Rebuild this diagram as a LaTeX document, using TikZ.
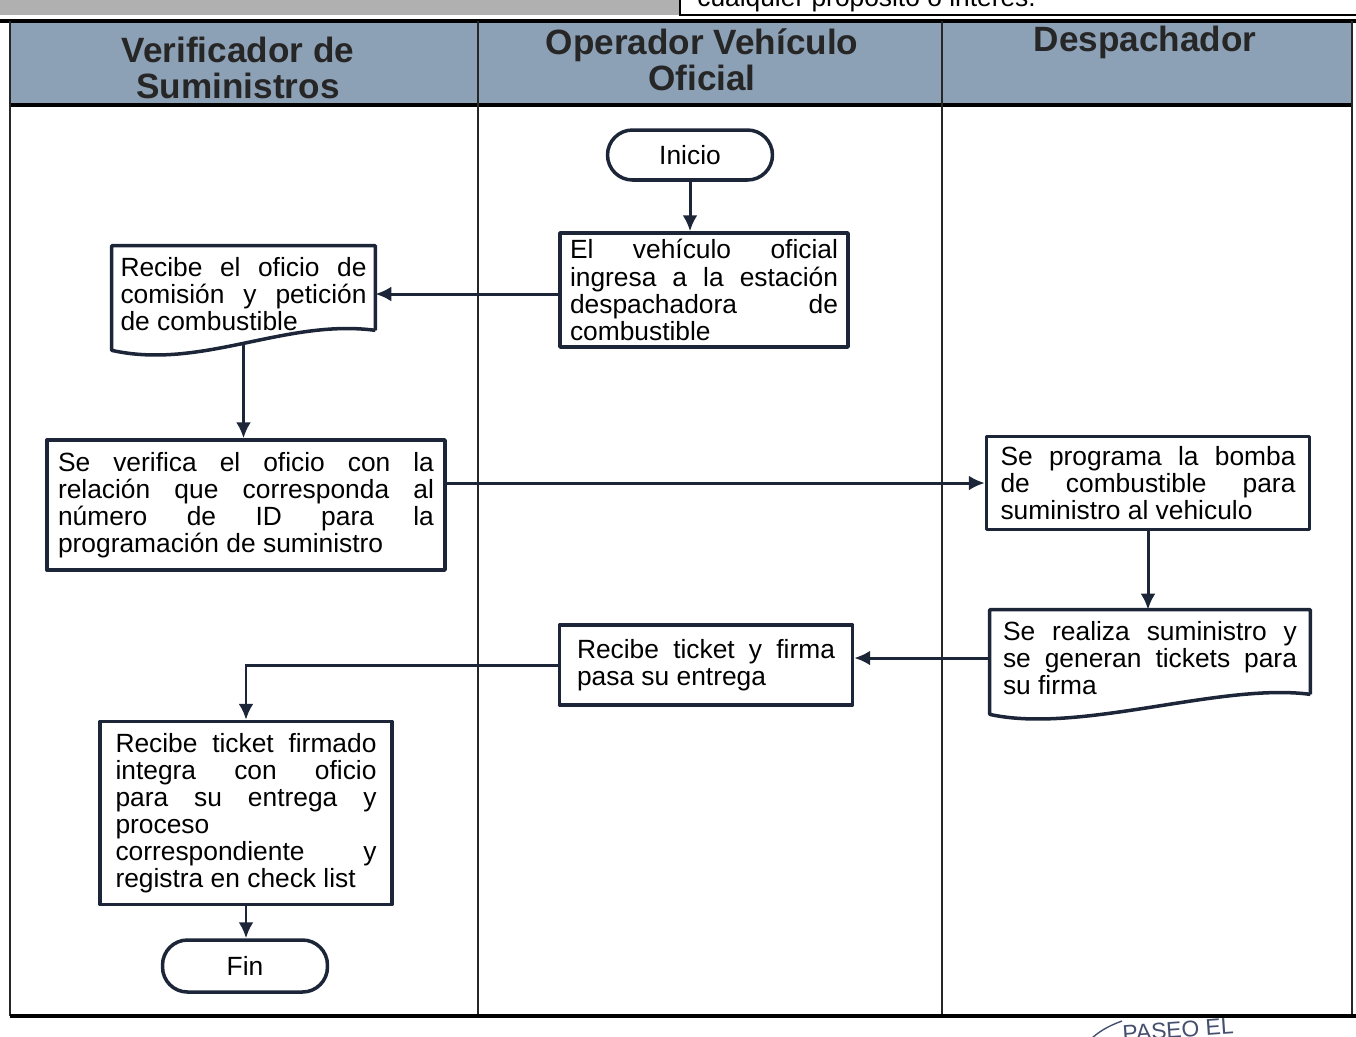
\documentclass[tikz,border=0pt]{standalone}
\usepackage{fontspec}
\setmainfont{Liberation Sans}
\usetikzlibrary{calc,arrows.meta}
\definecolor{lineblue}{RGB}{28,38,56}
\definecolor{headblue}{RGB}{140,160,182}
\definecolor{stripgray}{RGB}{176,176,176}
\definecolor{stampblue}{RGB}{70,80,110}
\newcommand\boxtext{\fontsize{15}{15.4}\selectfont\tolerance=10000\hbadness=10000}
\newcommand\headtext{\fontsize{20}{20.5}\selectfont\bfseries}
% wavy bottom for the document boxes
\def\docoutline(#1){\draw[boxline] ($(#1.south east)+(0,-12)$) -- (#1.north east) -- (#1.north west) -- ($(#1.south west)+(0,8)$) .. controls +(90,20) and +(-90,-12) .. ($(#1.south east)+(0,-12)$);}
\tikzset{
  boxline/.style={line width=2pt, draw=lineblue, line join=round},
  proc/.style={boxline, rectangle, align=justify, inner sep=0pt, font=\boxtext},
  docnode/.style={rectangle, align=justify, inner sep=0pt, font=\boxtext},
  term/.style={boxline, rectangle, rounded corners=0.5cm, inner sep=0pt, font=\boxtext, minimum width=3.3cm},
  flow/.style={line width=1.7pt, draw=lineblue, -{Latex[length=0.32cm,width=0.3cm]}},
  frameline/.style={line width=1.2pt, draw=black!85},
  lanehead/.style={align=center, inner sep=0pt, font=\headtext, text=black!85}
}
\begin{document}
\begin{tikzpicture}[x=0.02cm, y=-0.02cm]
	\useasboundingbox (0,0) rectangle (1356,1036);
	
	%%%%% top strip %%%%%
	\fill[stripgray] (0,-5) rectangle (680,15);
	\draw[line width=0.8pt] (680,-5) -- (680,15) -- (1356,15);
	\node[anchor=base west, inner sep=0pt, font=\boxtext] (nota) at (697,6) {cualquier propósito o interés.};
	
	%%%%% lanes %%%%%
	\fill[headblue] (10,22) rectangle (1352,105);
	\draw[line width=2.4pt] (0,21) -- (1356,21);
	\draw[line width=2.4pt] (10,105) -- (1352,105);
	\draw[frameline] (10,21) -- (10,1016);
	\draw[frameline] (478,21) -- (478,1016);
	\draw[frameline] (942,21) -- (942,1016);
	\draw[frameline] (1352,21) -- (1352,1016);
	\draw[line width=2pt] (10,1016) -- (1356,1016);
	
	\node[lanehead] (hverif) at (238,68) {Verificador de\\Suministros};
	\node[lanehead] (hoper) at (702,60) {Operador Vehículo\\Oficial};
	\node[lanehead] (hdesp) at (1145,42) {Despachador};
	
	%%%%% steps %%%%%
	\node[term, minimum height=1cm] (inicio) at (690,155) {Inicio};
	
	\node[proc, minimum width=5.76cm, minimum height=2.28cm, text width=5.36cm] (ingresa) at (704,290)
		{El vehículo oficial\linebreak ingresa a la estación\linebreak despachadora de\linebreak combustible};
	
	\node[docnode, minimum width=5.26cm, minimum height=1.92cm, text width=4.92cm] (oficio) at (243.5,294)
		{Recibe el oficio de\linebreak comisión y petición\linebreak de combustible};
	\docoutline(oficio)
	
	\node[proc, minimum width=7.96cm, minimum height=2.6cm, text width=7.52cm] (verifica) at (246,505)
		{Se verifica el oficio con la\linebreak relación que corresponda al\linebreak número de ID para la\linebreak programación de suministro};
	
	\node[proc, minimum width=6.46cm, minimum height=1.86cm, text width=5.9cm] (programa) at (1148,483)
		{Se programa la bomba\linebreak de combustible para\linebreak suministro al vehiculo};
	
	\node[docnode, minimum width=6.4cm, minimum height=1.92cm, text width=5.88cm] (realiza) at (1150,658)
		{Se realiza suministro y\linebreak se generan tickets para\linebreak su firma};
	\docoutline(realiza)
	
	\node[proc, minimum width=5.86cm, minimum height=1.6cm, text width=5.16cm] (ticket) at (706,665)
		{Recibe ticket y firma\linebreak pasa su entrega};
	
	\node[proc, minimum width=5.84cm, minimum height=3.66cm, text width=5.22cm] (firmado) at (246,813)
		{Recibe ticket firmado\linebreak integra con oficio\linebreak para su entrega y\linebreak proceso\\ correspondiente y\linebreak registra en check list};
	
	\node[term, minimum height=1.04cm] (fin) at (245,966) {Fin};
	
	%%%%% arrows %%%%%
	\draw[flow] (inicio.south) -- (inicio.south |- ingresa.north);
	\draw[flow] (oficio.east -| ingresa.west) -- (oficio.east);
	\draw[flow] (oficio.south) -- (oficio.south |- verifica.north);
	\draw[flow] (programa.west -| verifica.east) -- (programa.west);
	\draw[flow] (programa.south) -- (programa.south |- realiza.north);
	\draw[flow] (realiza.west) -- (realiza.west -| ticket.east);
	\draw[flow] (ticket.west) -| (firmado.north);
	\draw[flow] (firmado.south) -- (firmado.south |- fin.north);
	
	%%%%% stamp %%%%%
	\draw[stampblue, line width=0.8pt] (1090,1040) .. controls (1098,1032) and (1108,1026) .. (1122,1021);
	\node[rotate=4, text=stampblue, font=\fontsize{13}{13}\selectfont, inner sep=0pt] (sello) at (1178,1030) {PASEO EL};
\end{tikzpicture}
\end{document}
